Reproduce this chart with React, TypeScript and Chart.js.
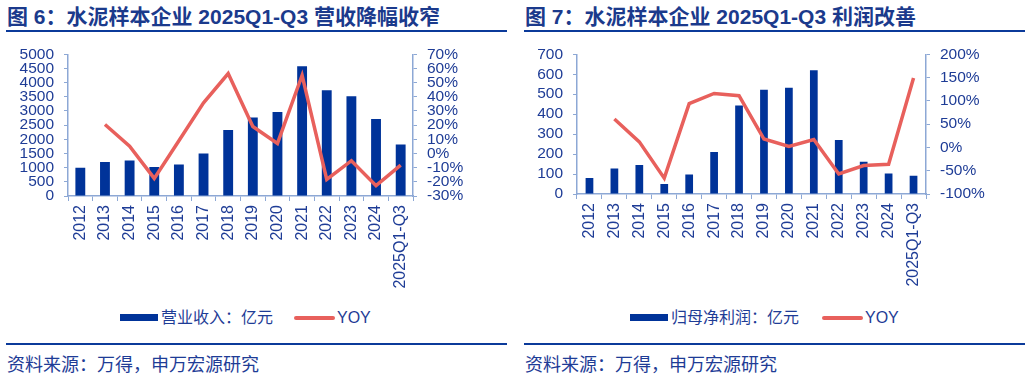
import React, { useEffect, useRef } from "react";
import { Chart, registerables } from "chart.js";

Chart.register(...registerables);

const categories = ["2012", "2013", "2014", "2015", "2016", "2017", "2018", "2019", "2020", "2021", "2022", "2023", "2024", "2025Q1-Q3"];
const revenue = [1000, 1200, 1250, 1020, 1110, 1500, 2330, 2770, 2960, 4580, 3730, 3520, 2720, 1820];
const revenueYoy = [null, 20.5, 5.2, -17.6, 9, 35.7, 56.4, 19, 7.1, 55.2, -18.3, -5.1, -22.7, -8.2];
const profit = [80, 128, 145, 50, 98, 210, 444, 522, 532, 620, 271, 161, 103, 91];
const profitYoy = [null, 61, 12, -66, 94, 116, 111, 18, 2, 17, -57, -39, -36, 149];

const leftTitle = "图 6：水泥样本企业 2025Q1-Q3 营收降幅收窄";
const rightTitle = "图 7：水泥样本企业 2025Q1-Q3 利润改善";
const leftBarLabel = "营业收入：亿元";
const rightBarLabel = "归母净利润：亿元";
const lineLabel = "YOY";
const sourceText = "资料来源：万得，申万宏源研究";

const BAR = "#003399";
const LINE = "#E8605C";
const TEXT = "#1E3C96";
const AXIS = "#8DA8D5";
const RULE = "#0B3A9A";
const FONT = '"Liberation Sans", Arial, "Noto Sans CJK SC", sans-serif';

const CANVAS_TOP = 35;
const CANVAS_H = 265;

type PanelProps = {
  left: number;
  title: string;
  bars: number[];
  yoy: (number | null)[];
  barLabel: string;
  yMax: number;
  yStep: number;
  y1Min: number;
  y1Max: number;
  y1Step: number;
  leftW: number;
  rightW: number;
  xH: number;
  barPct: number;
  legendBarX: number;
  legendLineX: number;
};

function Panel(p: PanelProps) {
  const ref = useRef<HTMLCanvasElement | null>(null);
  useEffect(() => {
    if (!ref.current) return;
    const tickFont = { family: FONT, size: 15.5, lineHeight: 1.2 };
    const chart = new Chart(ref.current, {
      type: "bar",
      data: {
        labels: categories,
        datasets: [
          {
            type: "line",
            label: lineLabel,
            data: p.yoy,
            yAxisID: "y1",
            borderColor: LINE,
            backgroundColor: LINE,
            borderWidth: 3.5,
            pointRadius: 0,
            tension: 0,
            order: 0,
            spanGaps: false,
          } as any,
          {
            type: "bar",
            label: p.barLabel,
            data: p.bars,
            yAxisID: "y",
            backgroundColor: BAR,
            borderWidth: 0,
            categoryPercentage: 1,
            barPercentage: p.barPct,
            order: 1,
          } as any,
        ],
      },
      options: {
        responsive: false,
        animation: false,
        layout: { padding: 0 },
        plugins: { legend: { display: false }, tooltip: { enabled: false } },
        scales: {
          x: {
            grid: { display: true, drawOnChartArea: false, drawTicks: true, tickLength: 5, color: AXIS, offset: true },
            border: { display: true, color: AXIS, width: 1.5 },
            ticks: { color: TEXT, font: { family: FONT, size: 16 }, minRotation: 90, maxRotation: 90, autoSkip: false, padding: 4 },
            afterFit: (s: any) => { s.height = p.xH; },
          },
          y: {
            position: "left",
            min: 0,
            max: p.yMax,
            grid: { display: true, drawOnChartArea: false, drawTicks: true, tickLength: 4, color: AXIS },
            border: { display: true, color: AXIS, width: 1.5 },
            ticks: { color: TEXT, font: tickFont, stepSize: p.yStep, autoSkip: false, padding: 10, callback: (v: any) => String(v) },
            afterFit: (s: any) => { s.width = p.leftW; },
          },
          y1: {
            position: "right",
            min: p.y1Min,
            max: p.y1Max,
            grid: { display: true, drawOnChartArea: false, drawTicks: true, tickLength: 4, color: AXIS },
            border: { display: true, color: AXIS, width: 1.5 },
            ticks: { color: TEXT, font: tickFont, stepSize: p.y1Step, autoSkip: false, padding: 10, callback: (v: any) => v + "%" },
            afterFit: (s: any) => { s.width = p.rightW; },
          },
        },
      },
    });
    return () => chart.destroy();
  }, []);

  const off = p.left ? 3 : 0;
  return (
    <div style={{ position: "absolute", left: p.left, top: 0, width: 515, height: 380, fontFamily: FONT }}>
      <div style={{ position: "absolute", left: 7 + off, top: 3, fontSize: 21, fontWeight: "bold", color: "#1B3A8C", whiteSpace: "nowrap", lineHeight: "27px" }}>{p.title}</div>
      <div style={{ position: "absolute", left: 6 + off, top: 30, width: 501, height: 2, background: RULE }} />
      <canvas ref={ref} width={515} height={CANVAS_H} style={{ position: "absolute", left: 0, top: CANVAS_TOP, width: 515, height: CANVAS_H }} />
      <div style={{ position: "absolute", left: p.legendBarX, top: 314, width: 38, height: 7, background: BAR }} />
      <div style={{ position: "absolute", left: p.legendBarX + 41, top: 307, fontSize: 16, lineHeight: "22px", color: TEXT, whiteSpace: "nowrap" }}>{p.barLabel}</div>
      <div style={{ position: "absolute", left: p.legendLineX, top: 316, width: 41, height: 4, borderRadius: 2, background: LINE }} />
      <div style={{ position: "absolute", left: p.legendLineX + 43, top: 307, fontSize: 16, lineHeight: "22px", color: TEXT, whiteSpace: "nowrap" }}>{lineLabel}</div>
      <div style={{ position: "absolute", left: 6 + off, top: 343, width: 501, height: 2, background: RULE }} />
      <div style={{ position: "absolute", left: 7 + off, top: 353, fontSize: 18, lineHeight: "24px", color: TEXT, whiteSpace: "nowrap" }}>{sourceText}</div>
    </div>
  );
}

export default function App() {
  return (
    <div style={{ position: "absolute", left: 0, top: 0, width: 1030, height: 380, background: "#fff", overflow: "hidden" }}>
      <Panel left={0} title={leftTitle} bars={revenue} yoy={revenueYoy} barLabel={leftBarLabel}
        yMax={5000} yStep={500} y1Min={-30} y1Max={70} y1Step={10}
        leftW={68} rightW={102} xH={104} barPct={0.4} legendBarX={120} legendLineX={294} />
      <Panel left={515} title={rightTitle} bars={profit} yoy={profitYoy} barLabel={rightBarLabel}
        yMax={700} yStep={100} y1Min={-100} y1Max={200} y1Step={50}
        leftW={62} rightW={104} xH={106} barPct={0.31} legendBarX={115} legendLineX={307} />
    </div>
  );
}
